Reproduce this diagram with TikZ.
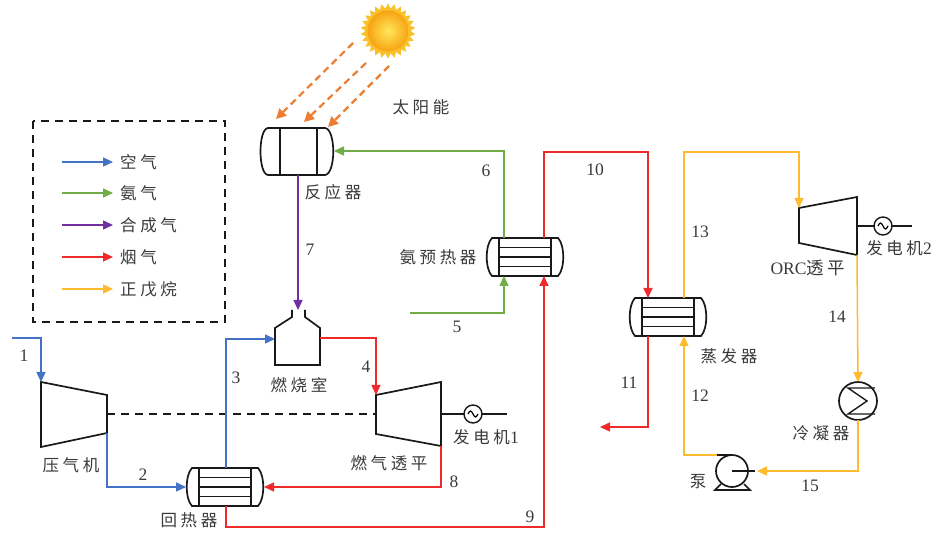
\documentclass[tikz,border=0pt]{standalone}
\usepackage{fontspec}
\setmainfont{Liberation Serif}
\newfontfamily\cjk[LetterSpace=22]{Noto Sans CJK SC}
\usetikzlibrary{arrows.meta,shapes.geometric}

\definecolor{airblue}{HTML}{4472C4}
\definecolor{nhgreen}{HTML}{70AD47}
\definecolor{synpurple}{HTML}{7030A0}
\definecolor{fluered}{HTML}{EE2A2A}
\definecolor{pentgold}{HTML}{FFBA2E}
\definecolor{solarorange}{HTML}{ED7D31}
\definecolor{txtgray}{HTML}{3A3A3A}
\definecolor{sunray}{HTML}{FBC12D}
\definecolor{sunlight}{HTML}{FFE85A}
\definecolor{sundeep}{HTML}{F6A313}

\tikzset{
  unit/.style={draw=black!90, line width=1.7pt, line join=miter},
  inner/.style={draw=black!90, line width=1.4pt},
  flow/.style={line width=1.5pt, -{Triangle[length=10pt,width=9pt]}},
  air/.style={flow, draw=airblue},
  nh3/.style={flow, draw=nhgreen},
  syn/.style={flow, draw=synpurple},
  flue/.style={flow, draw=fluered},
  pent/.style={flow, draw=pentgold},
  solar/.style={draw=solarorange, line width=2.2pt, dash pattern=on 7pt off 4.5pt,
    -{Triangle[length=10pt,width=10pt]}},
  shaft/.style={draw=black!90, line width=1.4pt, dash pattern=on 8pt off 6pt},
  lbl/.style={text=txtgray, inner sep=0pt, font=\cjk\fontsize{16.5}{18}\selectfont},
  num/.style={text=txtgray, inner sep=0pt, font=\fontsize{17.5}{19}\selectfont},
  hx/.pic={
    \draw[unit] (-26,-19) rectangle (26,19);
    \draw[unit] (-26,-19) -- (-33,-19) .. controls (-40,-12) and (-40,12) .. (-33,19) -- (-26,19);
    \draw[unit] (26,-19) -- (33,-19) .. controls (40,-12) and (40,12) .. (33,19) -- (26,19);
    \foreach \yy in {-9.5,0,9.5} \draw[inner] (-26,\yy) -- (26,\yy);
  },
  gen/.pic={
    \draw[inner, fill=white] (0,0) circle (9);
    \draw[line width=1.2pt] (-5,0) sin (-2.5,-3) cos (0,0) sin (2.5,3) cos (5,0);
  }
}

\begin{document}
\begin{tikzpicture}[x=1pt,y=-1pt]
\useasboundingbox[fill=white] (0,0) rectangle (938,534);

% ---------- sun and solar radiation ----------
\node[star, star points=26, star point ratio=1.22, minimum size=55pt, inner sep=0pt,
      fill=sunray] (sunrays) at (388,31) {};
\node[circle, minimum size=41pt, inner sep=0pt, inner color=sunlight, outer color=sundeep]
      (sunbody) at (388,31) {};
\coordinate (s1a) at (353,43);  \coordinate (s1b) at (276,119);
\coordinate (s2a) at (366,63);  \coordinate (s2b) at (304,122);
\coordinate (s3a) at (389,66);  \coordinate (s3b) at (328,127);
\draw[solar] (s1a) -- (s1b);
\draw[solar] (s2a) -- (s2b);
\draw[solar] (s3a) -- (s3b);
\node[lbl] (lsun) at (421,107) {太阳能};

% ---------- legend ----------
\draw[shaft, line width=1.3pt] (33,121) rectangle (225,322);
\foreach \yy/\sty/\name/\txt in {162/air/la/空气, 193/nh3/lb/氨气, 225/syn/lc/合成气,
                                 257/flue/ld/烟气, 289/pent/le/正戊烷}{
  \coordinate (\name-s) at (62,\yy);
  \coordinate (\name-e) at (113,\yy);
  \draw[\sty] (\name-s) -- (\name-e);
  \node[lbl, anchor=west] (\name-t) at (120,\yy) {\txt};
}

% ---------- reactor ----------
\draw[unit] (268,128) -- (325,128) .. controls (336,129) and (336,174) .. (325,175)
            -- (268,175) .. controls (258,174) and (258,129) .. (268,128) -- cycle;
\draw[unit] (280,128) -- (280,175);
\draw[unit] (317,128) -- (317,175);
\coordinate (rx-in) at (334,151);
\coordinate (rx-out) at (298,175);
\node[lbl] (lrx) at (333,192) {反应器};

% ---------- combustion chamber ----------
\draw[unit] (292,310) -- (292,317) -- (275,328) -- (275,365) -- (320,365)
            -- (320,328) -- (305,317) -- (305,310);
\coordinate (cc-top) at (298,310);
\coordinate (cc-in) at (275,339);
\coordinate (cc-out) at (320,338);
\node[lbl] (lcc) at (299,385) {燃烧室};

% ---------- compressor, gas turbine, generator 1 ----------
\draw[unit] (41,382) -- (107,395) -- (107,433) -- (41,447) -- cycle;
\coordinate (cmp-in) at (41,382);
\coordinate (cmp-out) at (107,433);
\coordinate (cmp-shaft) at (107,414);
\node[lbl] (lcmp) at (71,465) {压气机};

\draw[unit] (376,395) -- (441,382) -- (441,446) -- (376,434) -- cycle;
\coordinate (gt-in) at (376,395);
\coordinate (gt-out) at (441,446);
\coordinate (gt-shaft) at (376,414);
\coordinate (gt-shaft2) at (441,414);
\coordinate (g1-end) at (507,414);
\node[lbl] (lgt) at (389,463) {燃气透平};
\draw[shaft] (cmp-shaft) -- (gt-shaft);
\draw[inner] (gt-shaft2) -- (g1-end);
\pic at (473,414) {gen};
\node[lbl] (lg1) at (486,437) {发电机\normalfont\fontsize{17.5}{19}\selectfont 1};

% ---------- recuperator ----------
\pic at (225,487) {hx};
\coordinate (rec-cin) at (186,487);
\coordinate (rec-cout) at (226,468);
\coordinate (rec-hin) at (264,487);
\coordinate (rec-hout) at (226,506);
\node[lbl] (lrec) at (189,520) {回热器};

% ---------- ammonia preheater ----------
\pic at (525,257) {hx};
\coordinate (ph-cin) at (504,276);
\coordinate (ph-cout) at (504,238);
\coordinate (ph-hin) at (544,276);
\coordinate (ph-hout) at (544,238);
\node[lbl] (lph) at (438,257) {氨预热器};

% ---------- evaporator ----------
\pic at (668,317) {hx};
\coordinate (ev-hin) at (648,298);
\coordinate (ev-hout) at (648,336);
\coordinate (ev-cin) at (684,336);
\coordinate (ev-cout) at (684,298);
\node[lbl] (lev) at (729,356) {蒸发器};

% ---------- ORC turbine, generator 2 ----------
\draw[unit] (799,208) -- (857,197) -- (857,255) -- (799,243) -- cycle;
\coordinate (orc-in) at (799,208);
\coordinate (orc-out) at (857,255);
\coordinate (orc-shaft) at (857,226);
\coordinate (g2-end) at (912,226);
\draw[inner] (orc-shaft) -- (g2-end);
\pic at (883,226) {gen};
\node[lbl] (lorc) at (808,268) {\normalfont\fontsize{17.5}{19}\selectfont ORC\cjk 透平};
\node[lbl] (lg2) at (899,248) {发电机\normalfont\fontsize{17.5}{19}\selectfont 2};

% ---------- condenser ----------
\draw[unit] (858,401) circle (19);
\draw[inner] (875,388) -- (848,388) -- (867,401) -- (848,414) -- (875,414);
\coordinate (cd-in) at (858,382);
\coordinate (cd-out) at (858,420);
\node[lbl] (lcd) at (821,433) {冷凝器};

% ---------- pump ----------
\draw[unit] (732,471) circle (16);
\draw[inner] (732,455) -- (717,455);
\draw[inner] (732,471) -- (755,471);
\draw[unit] (721,484) -- (715,490) -- (750,490) -- (744,484);
\coordinate (pm-out) at (717,455);
\coordinate (pm-in) at (757,471);
\node[lbl] (lpm) at (698,482) {泵};

% ---------- streams ----------
\coordinate (air-src) at (12,338);
\coordinate (nh3-src) at (410,313);
\coordinate (c9) at (544,527);
\coordinate (c10) at (600,152);
\coordinate (c13) at (740,152);
\coordinate (flue-out) at (600,427);

\draw[air] (air-src) -| (cmp-in);
\draw[air] (cmp-out) |- (rec-cin);
\draw[air] (rec-cout) |- (cc-in);
\draw[nh3] (nh3-src) -| (ph-cin);
\draw[nh3] (ph-cout) |- (rx-in);
\draw[syn] (rx-out) -- (cc-top);
\draw[flue] (cc-out) -| (gt-in);
\draw[flue] (gt-out) |- (rec-hin);
\draw[flue] (rec-hout) |- (c9) -- (ph-hin);
\draw[flue] (ph-hout) |- (c10) -| (ev-hin);
\draw[flue] (ev-hout) |- (flue-out);
\draw[pent] (ev-cout) |- (c13) -| (orc-in);
\draw[pent] (orc-out) -- (cd-in);
\draw[pent] (cd-out) |- (pm-in);
\draw[pent] (pm-out) -| (ev-cin);

% ---------- state numbers ----------
\node[num] (n1) at (24,356) {1};
\node[num] (n2) at (143,475) {2};
\node[num] (n3) at (236,378) {3};
\node[num] (n4) at (366,367) {4};
\node[num] (n5) at (457,327) {5};
\node[num] (n6) at (486,171) {6};
\node[num] (n7) at (310,250) {7};
\node[num] (n8) at (454,482) {8};
\node[num] (n9) at (530,517) {9};
\node[num] (n10) at (595,170) {10};
\node[num] (n11) at (629,383) {11};
\node[num] (n12) at (700,396) {12};
\node[num] (n13) at (700,232) {13};
\node[num] (n14) at (837,317) {14};
\node[num] (n15) at (810,486) {15};
\end{tikzpicture}
\end{document}
